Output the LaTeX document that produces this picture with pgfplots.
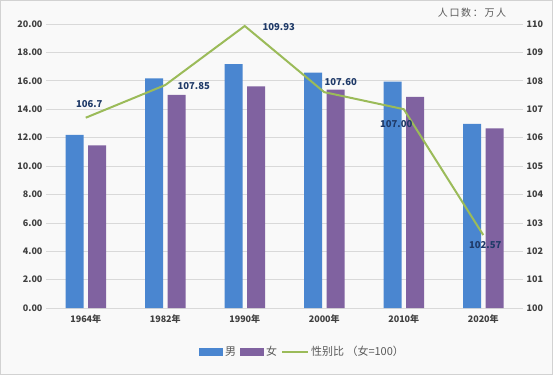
\documentclass[border=0pt]{standalone}
\usepackage{pgfplots}
\pgfplotsset{compat=1.18}
\usepackage{fontspec}
\setmainfont{Noto Sans CJK SC}
\definecolor{cblue}{HTML}{4A86D0}
\definecolor{cpurple}{HTML}{8062A0}
\definecolor{cgreen}{HTML}{9BBB59}
\definecolor{lbl}{HTML}{1F3A68}
\definecolor{tickc}{HTML}{404040}
\definecolor{legc}{HTML}{595959}
\definecolor{gridc}{HTML}{D9D9D9}
\definecolor{bgc}{HTML}{F9F9F9}
\pgfplotstableread{
x male female
0 12.20 11.46
1 16.17 15.00
2 17.18 15.60
3 16.57 15.37
4 15.94 14.86
5 12.96 12.65
}\pop
\pgfplotstableread{
x y lab dx dy
0 106.70 106.7 3.5 14
1 107.85 107.85 28.5 -1
2 109.93 109.93 34 -1
3 107.60 107.60 16.5 10
4 107.00 107.00 -7.5 -15
5 102.57 102.57 2 -10
}\ratio
\begin{document}
\begin{tikzpicture}[x=1pt,y=1pt]
\fill[bgc] (0,0) rectangle (553,375);
\draw[gray!35] (0.5,0.5) rectangle (552.5,374.5);
\begin{axis}[
  at={(46pt,67pt)}, anchor=south west,
  width=477pt, height=284pt, scale only axis,
  xmin=-0.5, xmax=5.5, ymin=0, ymax=20,
  ytick={0,2,...,20},
  xtick={0,...,5},
  xticklabels={1964年,1982年,1990年,2000年,2010年,2020年},
  yticklabel style={/pgf/number format/.cd, fixed, fixed zerofill, precision=2, assume math mode=true},
  ticklabel style={font=\bfseries\fontsize{9}{11}\selectfont, text=tickc},
  major tick length=0pt,
  axis x line*=bottom, axis y line*=left,
  y axis line style={draw=none},
  x axis line style={gridc, line width=0.8pt, -},
  ymajorgrids, grid style={gridc, line width=0.6pt},
  ybar=4.5pt, bar width=18pt,
  xticklabel style={yshift=-3pt},
  legend style={at={(0.5,0)}, anchor=center, xshift=18pt, yshift=-44pt,
    draw=none, fill=none, legend columns=-1,
    font=\fontsize{11}{13}\selectfont, text=legc,
    /tikz/every even column/.append style={column sep=2pt}},
]
\addplot[fill=cblue, draw=none, area legend,
  legend image code/.code={\fill[cblue] (0pt,-4pt) rectangle (24pt,4pt);}] table[x=x,y=male]{\pop};
\addlegendentry{男}
\addplot[fill=cpurple, draw=none, area legend,
  legend image code/.code={\fill[cpurple] (0pt,-4pt) rectangle (24pt,4pt);}] table[x=x,y=female]{\pop};
\addlegendentry{女}
\addlegendimage{legend image code/.code={\draw[cgreen, line width=2pt] (0pt,0pt) -- (26pt,0pt);}}
\addlegendentry{性别比 （女=100）}
\end{axis}
\begin{axis}[
  at={(46pt,67pt)}, anchor=south west,
  width=477pt, height=284pt, scale only axis,
  xmin=-0.5, xmax=5.5, ymin=100, ymax=110,
  ytick={100,...,110},
  axis x line=none,
  axis y line*=right,
  y axis line style={draw=none},
  major tick length=0pt,
  yticklabel style={/pgf/number format/assume math mode=true},
  ticklabel style={font=\bfseries\fontsize{9}{11}\selectfont, text=tickc},
]
\addplot[cgreen, line width=2pt, mark=none,
  nodes near coords, point meta=explicit symbolic,
  visualization depends on={\thisrow{dx}\as\dx},
  visualization depends on={\thisrow{dy}\as\dy},
  nodes near coords style={anchor=center, xshift=\dx pt, yshift=\dy pt,
    font=\bfseries\fontsize{9.5}{11}\selectfont, text=lbl}]
  table[x=x,y=y,meta=lab]{\ratio};
\end{axis}
\node[text=legc, font=\fontsize{10}{12}\selectfont] at (472,362) {人\,口\,数\,：\,万\,人};
\end{tikzpicture}
\end{document}
